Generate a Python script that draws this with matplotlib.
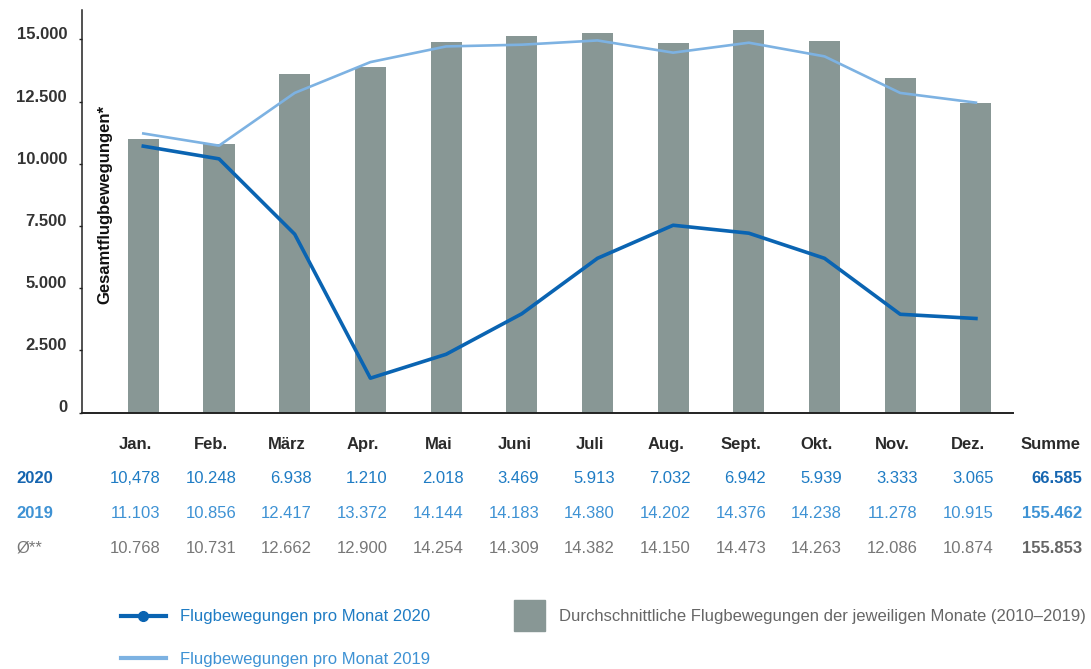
import matplotlib.pyplot as plt
import matplotlib.transforms as mtransforms
from matplotlib.lines import Line2D
from matplotlib.patches import Rectangle

plt.rcParams['font.family'] = ['Liberation Sans', 'DejaVu Sans']

# values (plotted marks)
months = ['Jan.', 'Feb.', 'März', 'Apr.', 'Mai', 'Juni', 'Juli', 'Aug.', 'Sept.', 'Okt.', 'Nov.', 'Dez.']
avg_bars = [10990, 10810, 13600, 13880, 14880, 15120, 15280, 14840, 15400, 14920, 13440, 12460]
line_2019 = [11220, 10730, 12850, 14090, 14720, 14790, 14960, 14470, 14870, 14320, 12850, 12460]
line_2020 = [10710, 10200, 7170, 1380, 2340, 3970, 6200, 7530, 7210, 6200, 3950, 3780]

# table below the chart (as printed)
tab_2020 = ['10,478', '10.248', '6.938', '1.210', '2.018', '3.469', '5.913', '7.032', '6.942', '5.939', '3.333', '3.065']
tab_2019 = ['11.103', '10.856', '12.417', '13.372', '14.144', '14.183', '14.380', '14.202', '14.376', '14.238', '11.278', '10.915']
tab_avg = ['10.768', '10.731', '12.662', '12.900', '14.254', '14.309', '14.382', '14.150', '14.473', '14.263', '12.086', '10.874']
sums = ['66.585', '155.462', '155.853']
yticks = [0, 2500, 5000, 7500, 10000, 12500, 15000]
ytick_labels = ['0', '2.500', '5.000', '7.500', '10.000', '12.500', '15.000']

c_bar = '#889795'
c_2020 = '#0a64b2'
c_2019 = '#7db2e2'
c_txt20 = '#1f7cc4'
c_txt19 = '#3e92d4'
c_gray = '#777777'
fs = 12

W, H = 1091, 669
fx = lambda px: px / W
fy = lambda py: 1 - py / H

fig = plt.figure(figsize=(W / 100, H / 100), dpi=100)
ax = fig.add_axes([fx(82.3), fy(412.5), fx(1013) - fx(82.3), (412.5 - 10) / H])

x = list(range(len(months)))
ax.bar(x, avg_bars, width=0.41, color=c_bar, zorder=1)
ax.plot(x, line_2019, color=c_2019, lw=1.9, zorder=2)
ax.plot(x, line_2020, color=c_2020, lw=2.6, zorder=3)

ax.set_xlim(-0.806, 11.49)
ax.set_ylim(0, 16185)
ax.set_yticks(yticks)
ax.set_yticklabels(ytick_labels, fontsize=fs, fontweight='bold', color='#333333')
for lab in ax.get_yticklabels():
    lab.set_verticalalignment('baseline')
ax.tick_params(axis='y', length=2.5, width=1, color='#222222', pad=8.5)
ax.set_xticks([])
for s in ['top', 'right']:
    ax.spines[s].set_visible(False)
ax.spines['left'].set_color('#222222')
ax.spines['bottom'].set_color('#222222')
ax.spines['left'].set_linewidth(1.1)
ax.spines['bottom'].set_linewidth(1.4)

fig.text(fx(105), fy(304), 'Gesamtflugbewegungen*', rotation=90, ha='center', va='bottom',
         fontsize=fs, fontweight='bold', color='#111111')

# table
tr = mtransforms.blended_transform_factory(ax.transData, fig.transFigure)
rows = [(tab_2020, c_txt20), (tab_2019, c_txt19), (tab_avg, c_gray)]
row_y = [483.3, 518, 552.7]
row_labels = [('2020', '#1565b0', 'bold'), ('2019', '#3e92d4', 'bold'), ('Ø**', c_gray, 'normal')]
sum_colors = ['#1565b0', '#3e92d4', '#666666']

for i, m in enumerate(months):
    fig.text(i - 0.1, fy(448.7), m, transform=tr, ha='center', va='baseline',
             fontsize=fs, fontweight='bold', color='#2a2a2a')
fig.text(fx(1081), fy(448.7), 'Summe', ha='right', va='baseline',
         fontsize=fs, fontweight='bold', color='#2a2a2a')

for (vals, col), yy, (lab, lc, lw), sc, sv in zip(rows, row_y, row_labels, sum_colors, sums):
    fig.text(fx(16), fy(yy), lab, ha='left', va='baseline', fontsize=fs, fontweight=lw, color=lc)
    for i, v in enumerate(vals):
        fig.text(i + 0.23, fy(yy), v, transform=tr, ha='right', va='baseline',
                 fontsize=fs, color=col)
    fig.text(fx(1082), fy(yy), sv, ha='right', va='baseline', fontsize=fs,
             fontweight='bold', color=sc)

# legend
fig.add_artist(Line2D([fx(121), fx(165.6)], [fy(616), fy(616)], color=c_2020, lw=3,
                      transform=fig.transFigure))
fig.add_artist(Line2D([fx(143)], [fy(616)], color=c_2020, marker='o', markersize=7,
                      transform=fig.transFigure))
fig.text(fx(180), fy(621.5), 'Flugbewegungen pro Monat 2020', ha='left', va='baseline',
         fontsize=fs, color=c_txt20)
fig.add_artist(Line2D([fx(121), fx(165.6)], [fy(658.3), fy(658.3)], color=c_2019, lw=3,
                      transform=fig.transFigure))
fig.text(fx(180), fy(663.8), 'Flugbewegungen pro Monat 2019', ha='left', va='baseline',
         fontsize=fs, color=c_txt19)
fig.add_artist(Rectangle((fx(514), fy(631)), fx(31), 31 / H, color=c_bar,
                         transform=fig.transFigure))
fig.text(fx(559), fy(621.5), 'Durchschnittliche Flugbewegungen der jeweiligen Monate (2010\u20132019)',
         ha='left', va='baseline', fontsize=fs, color='#666666')

fig.savefig('out.png', dpi=100)
